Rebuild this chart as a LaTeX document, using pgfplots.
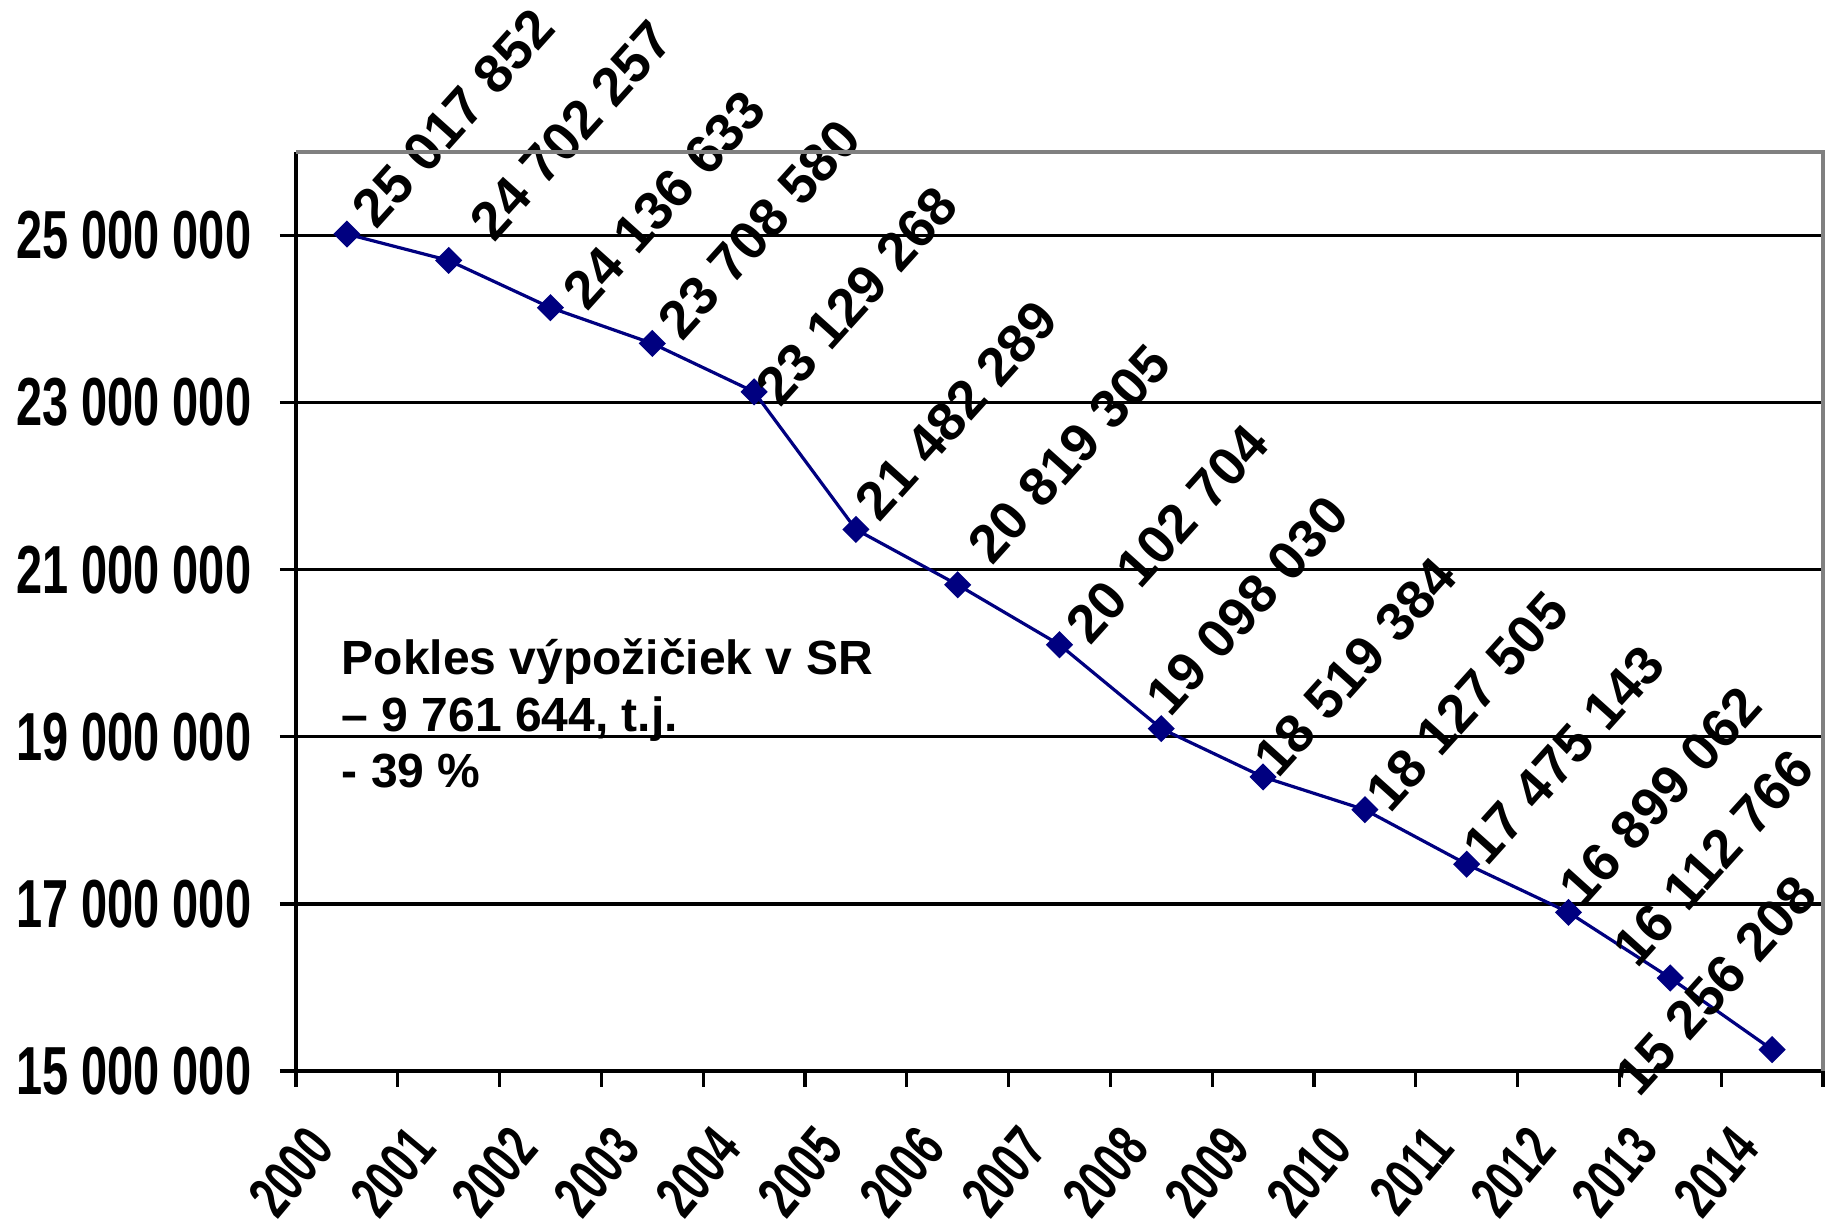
\documentclass[border=0pt]{standalone}
\usepackage{fontspec}
\setmainfont{Liberation Sans}
\newfontfamily\narrowfont[FakeStretch=0.69]{Liberation Sans}
\usepackage{pgfplots}
\pgfplotsset{compat=1.18}
\usepackage{pgfplotstable}
\definecolor{navy}{RGB}{0,0,128}

\pgfplotstableread[col sep=comma]{
x,y,lab,dx,dy
0,25017852,25 017 852,7.25,0.5
1,24702257,24 702 257,11.25,4
2,24136633,24 136 633,9,-1.5
3,23708580,23 708 580,7.25,0
4,23129268,23 129 268,6.25,-4.5
5,21482289,21 482 289,5.75,1.25
6,20819305,20 819 305,8.5,4.25
7,20102704,20 102 704,7.5,-0.75
8,19098030,19 098 030,2.1,2.3
9,18519384,18 519 384,3.6,-0.95
10,18127505,18 127 505,6.1,-1.45
11,17475143,17 475 143,4.85,-1.2
12,16899062,16 899 062,3.6,0.55
13,16112766,16 112 766,-8.5,1.8
14,15256208,15 256 208,-33.5,-12.5
}\datatable

\begin{document}
\begin{tikzpicture}
\begin{axis}[
  at={(0,0)}, anchor=south west,
  width=381.75pt, height=229.75pt, scale only axis,
  clip=false,
  xmin=-0.5, xmax=14.5, ymin=15000000, ymax=26000000,
  axis x line*=bottom, axis y line*=left,
  axis line style={-, black, line width=0.8pt},
  tick align=outside, major tick length=4pt,
  tick style={black, line width=0.8pt},
  xtick={-0.5,0.5,1.5,2.5,3.5,4.5,5.5,6.5,7.5,8.5,9.5,10.5,11.5,12.5,13.5,14.5},
  xticklabels={},
  extra x ticks={0,1,2,3,4,5,6,7,8,9,10,11,12,13,14},
  extra x tick labels={2000,2001,2002,2003,2004,2005,2006,2007,2008,2009,2010,2011,2012,2013,2014},
  extra x tick style={major tick length=0pt},
  xticklabel style={font=\narrowfont\bfseries\fontsize{15}{18}\selectfont, inner sep=0pt, xshift=-6.4pt, yshift=-16.3pt, rotate=50, anchor=east},
  scaled y ticks=false,
  ytick={15000000,17000000,19000000,21000000,23000000,25000000},
  yticklabels={15 000 000,17 000 000,19 000 000,21 000 000,23 000 000,25 000 000},
  yticklabel style={font=\narrowfont\bfseries\fontsize{17}{20}\selectfont, inner sep=0pt, anchor=east, xshift=-7pt},
  ymajorgrids,
  major grid style={black, line width=0.8pt},
  after end axis/.code={\draw[black!50, line width=0.8pt] (rel axis cs:0,1) -- (rel axis cs:1,1) -- (rel axis cs:1,0);},
]
\addplot[navy, line width=0.8pt, mark=square*, mark size=2pt,
  mark options={rotate=45, fill=navy, draw=navy},
  nodes near coords, point meta=explicit symbolic,
  visualization depends on={\thisrow{dx} \as \dx},
  visualization depends on={\thisrow{dy} \as \dy},
  every node near coord/.style={font=\bfseries\fontsize{13.5}{16}\selectfont, text=black, inner sep=0pt, anchor=base west, xshift=\dx pt, yshift=\dy pt, rotate=48}]
  table[x=x, y=y, meta=lab] {\datatable};
\end{axis}
\node[anchor=base west, inner sep=0pt, font=\bfseries\fontsize{12}{14}\selectfont] at (11.25pt,99pt) {Pokles výpožičiek v SR};
\node[anchor=base west, inner sep=0pt, font=\bfseries\fontsize{12}{14}\selectfont] at (11.25pt,84.75pt) {– 9 761 644, t.j.};
\node[anchor=base west, inner sep=0pt, font=\bfseries\fontsize{12}{14}\selectfont] at (11.25pt,70.75pt) {- 39 \%};
\pgfresetboundingbox
\useasboundingbox (-74pt,-40.25pt) rectangle (382.25pt,267.75pt);
\end{tikzpicture}
\end{document}
